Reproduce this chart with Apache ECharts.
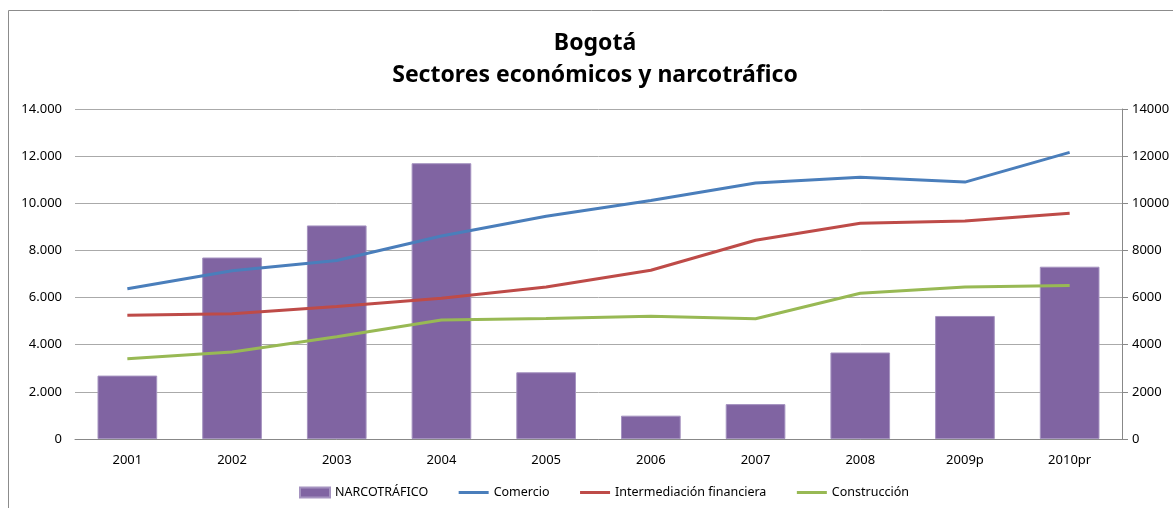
<!DOCTYPE html>
<html>
<head>
<meta charset="utf-8">
<title>Bogotá - Sectores económicos y narcotráfico</title>
<script src="https://cdn.jsdelivr.net/npm/echarts@6/dist/echarts.min.js"></script>
<style>
  html, body { margin: 0; padding: 0; background: #ffffff; }
  #chart { width: 1173px; height: 508px; }
</style>
</head>
<body>
<div id="chart"></div>
<script>
// Years (p = provisional, pr = preliminary)
const categories = ['2001', '2002', '2003', '2004', '2005', '2006', '2007', '2008', '2009p', '2010pr'];

// Drug-trafficking value (bars, left axis)
const narcotrafico = [2690, 7700, 9060, 11700, 2830, 990, 1480, 3670, 5220, 7310];

// Economic sectors (lines, right axis)
const comercio = [6370, 7140, 7570, 8610, 9450, 10120, 10860, 11100, 10900, 12160];
const intermediacion = [5250, 5310, 5620, 5970, 6450, 7160, 8430, 9150, 9250, 9580];
const construccion = [3400, 3690, 4340, 5050, 5110, 5210, 5100, 6180, 6450, 6510];

// Axis ticks
const leftTicks = ['0', '2.000', '4.000', '6.000', '8.000', '10.000', '12.000', '14.000'];
const rightTicks = ['0', '2000', '4000', '6000', '8000', '10000', '12000', '14000'];

const FONT = 'Noto Sans';
const chart = echarts.init(document.getElementById('chart'), null, { renderer: 'canvas' });

// legend entries for the lines: keep the stroke, hide the marker
const lineLegend = (name) => ({ name: name, itemStyle: { opacity: 0 }, lineStyle: { width: 3 } });

chart.setOption({
  animation: false,
  textStyle: { fontFamily: FONT },
  graphic: [
    {
      type: 'rect',
      shape: { x: 8.5, y: 10.5, width: 1300, height: 700 },
      style: { fill: 'none', stroke: '#8c8c8c', lineWidth: 1 },
      silent: true
    },
    {
      type: 'text',
      x: 595, y: 43,
      style: {
        text: 'Bogotá',
        font: 'bold 23px "' + FONT + '"',
        fill: '#000000',
        textAlign: 'center',
        textVerticalAlign: 'middle'
      }
    },
    {
      type: 'text',
      x: 595, y: 75,
      style: {
        text: 'Sectores económicos y narcotráfico',
        font: 'bold 23px "' + FONT + '"',
        fill: '#000000',
        textAlign: 'center',
        textVerticalAlign: 'middle'
      }
    }
  ],
  grid: { left: 75, right: 51, top: 109, bottom: 69, containLabel: false },
  legend: {
    bottom: 4,
    left: 294,
    itemGap: 29,
    itemWidth: 30,
    itemHeight: 10,
    textStyle: { fontFamily: FONT, fontSize: 12.5, color: '#000000' },
    data: [
      { name: 'NARCOTRÁFICO', icon: 'rect' },
      lineLegend('Comercio'),
      lineLegend('Intermediación financiera'),
      lineLegend('Construcción')
    ]
  },
  xAxis: {
    type: 'category',
    data: categories,
    axisLine: { lineStyle: { color: '#888888', width: 1 } },
    axisTick: { show: false },
    axisLabel: { fontFamily: FONT, fontSize: 13, color: '#000000', margin: 15 }
  },
  yAxis: [
    {
      type: 'value',
      min: 0, max: 14000, interval: 2000,
      position: 'left',
      axisLine: { show: false },
      axisTick: { show: false },
      splitLine: { lineStyle: { color: '#aaaaaa', width: 1 } },
      axisLabel: {
        fontFamily: FONT, fontSize: 13, color: '#000000', margin: 13,
        formatter: function (v) { return leftTicks[Math.round(v / 2000)]; }
      }
    },
    {
      type: 'value',
      min: 0, max: 14000, interval: 2000,
      position: 'right',
      axisLine: { show: true, lineStyle: { color: '#888888', width: 1 } },
      axisTick: { show: true, length: 6, lineStyle: { color: '#888888' } },
      splitLine: { show: false },
      axisLabel: {
        fontFamily: FONT, fontSize: 13, color: '#000000', margin: 10,
        formatter: function (v) { return rightTicks[Math.round(v / 2000)]; }
      }
    }
  ],
  series: [
    {
      name: 'NARCOTRÁFICO',
      type: 'bar',
      yAxisIndex: 0,
      data: narcotrafico,
      barWidth: '57%',
      itemStyle: { color: '#8064a2', borderColor: '#a593c0', borderWidth: 1 }
    },
    {
      name: 'Comercio',
      type: 'line',
      yAxisIndex: 1,
      data: comercio,
      symbol: 'none',
      lineStyle: { color: '#4a7ebb', width: 3 },
      itemStyle: { color: '#4a7ebb' }
    },
    {
      name: 'Intermediación financiera',
      type: 'line',
      yAxisIndex: 1,
      data: intermediacion,
      symbol: 'none',
      lineStyle: { color: '#be4b48', width: 3 },
      itemStyle: { color: '#be4b48' }
    },
    {
      name: 'Construcción',
      type: 'line',
      yAxisIndex: 1,
      data: construccion,
      symbol: 'none',
      lineStyle: { color: '#98b954', width: 3 },
      itemStyle: { color: '#98b954' }
    }
  ]
});
</script>
</body>
</html>
